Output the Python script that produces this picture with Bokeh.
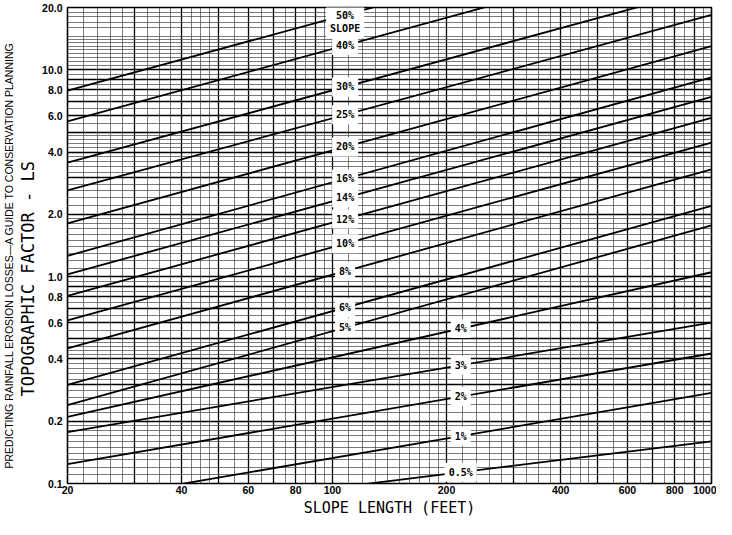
import numpy as np
from bokeh.plotting import figure
from bokeh.models import FixedTicker, Title, ColumnDataSource
from bokeh.core.properties import value
from bokeh.embed import file_html
from bokeh.resources import INLINE

# ---------------- data ----------------
slope_labels = ["50%\nSLOPE", "40%", "30%", "25%", "20%", "16%", "14%", "12%",
                "10%", "8%", "6%", "5%", "4%", "3%", "2%", "1%", "0.5%"]
# LS value of every slope line at slope length 20 ft and at 1000 ft
ls_at_20 = [7.92, 5.63, 3.56, 2.61, 1.81, 1.26, 1.025, 0.808,
            0.614, 0.45, 0.30, 0.239, 0.21, 0.177, 0.124, 0.08, 0.066]
ls_at_1000 = [56.0, 40.0, 25.1, 18.4, 13.0, 9.2, 7.4, 5.85,
              4.45, 3.3, 2.2, 1.77, 1.05, 0.60, 0.425, 0.274, 0.160]
length_start = 20
length_end = 1000
# which label column (0 = near 100 ft, 1 = near 200 ft) each slope label sits in
label_column = [0, 0, 0, 0, 0, 0, 0, 0, 0, 0, 0, 0, 1, 1, 1, 1, 1]

x_tick_values = [20, 40, 60, 80, 100, 200, 400, 600, 800, 1000]
x_tick_labels = ["20", "40", "60", "80", "100", "200", "400", "600", "800", "1000"]
y_tick_values = [0.1, 0.2, 0.4, 0.6, 0.8, 1.0, 2.0, 4.0, 6.0, 8.0, 10.0, 20.0]
y_tick_labels = ["0.1", "0.2", "0.4", "0.6", "0.8", "1.0", "2.0", "4.0", "6.0", "8.0", "10.0", "20.0"]

# log-paper rulings
x_heavy = [20, 30, 40, 50, 60, 70, 80, 90, 100, 200, 300, 400, 500, 600, 700, 800, 900, 1000]
y_heavy = [0.1, 0.2, 0.3, 0.4, 0.5, 0.6, 0.7, 0.8, 0.9, 1, 2, 3, 4, 5, 6, 7, 8, 9, 10, 20]


def between(a, b, step):
    return [round(v, 6) for v in np.arange(a + step, b - step / 2, step)]


x_light = (between(20, 30, 2) + between(30, 40, 2.5) + between(40, 50, 2.5) +
           between(50, 100, 5) + between(100, 200, 10) + between(200, 300, 20) +
           between(300, 400, 25) + between(400, 500, 25) + between(500, 1000, 50))
x_light = [v for v in x_light if v not in x_heavy]
y_light = (between(0.1, 0.2, 0.01) + between(0.2, 0.5, 0.02) + between(0.5, 1, 0.05) +
           between(1, 2, 0.1) + between(2, 5, 0.2) + between(5, 10, 0.5) +
           between(10, 15, 0.5) + between(15, 20, 1))
y_light = [v for v in y_light if min(abs(v - h) for h in y_heavy) > 1e-6]

# ---------------- figure ----------------
p = figure(width=716, height=519, x_axis_type="log", y_axis_type="log",
           x_range=(20, 1000), y_range=(0.1, 20),
           output_backend="svg", toolbar_location=None,
           min_border_left=64, min_border_right=5, min_border_top=7, min_border_bottom=33)
p.background_fill_color = "white"
p.border_fill_color = "white"
p.outline_line_color = "black"
p.outline_line_width = 1.6

for g, heavy, light in ((p.xgrid[0], x_heavy, x_light), (p.ygrid[0], y_heavy, y_light)):
    g.ticker = FixedTicker(ticks=heavy, minor_ticks=light)
    g.grid_line_color = "black"
    g.grid_line_width = 1.3
    g.grid_line_alpha = 1.0
    g.minor_grid_line_color = "#4d4d4d"
    g.minor_grid_line_width = 0.75

p.xaxis.ticker = FixedTicker(ticks=x_tick_values)
p.yaxis.ticker = FixedTicker(ticks=y_tick_values)
p.xaxis.major_label_overrides = {v: s for v, s in zip(x_tick_values, x_tick_labels)}
p.yaxis.major_label_overrides = {v: s for v, s in zip(y_tick_values, y_tick_labels)}

for ax in (p.xaxis[0], p.yaxis[0]):
    ax.axis_line_color = None
    ax.major_tick_line_color = None
    ax.minor_tick_line_color = None
    ax.major_tick_out = 0
    ax.major_tick_in = 0
    ax.minor_tick_out = 0
    ax.minor_tick_in = 0
    ax.major_label_text_font = "Liberation Sans"
    ax.major_label_text_font_style = "bold"
    ax.major_label_text_font_size = "10.5px"
    ax.major_label_text_color = "black"
    ax.axis_label_text_font = "DejaVu Sans Mono"
    ax.axis_label_text_font_style = "normal"
    ax.axis_label_text_font_size = "15px"
    ax.axis_label_text_color = "black"

p.xaxis.axis_label = "SLOPE LENGTH (FEET)"
p.xaxis.major_label_standoff = 2
p.xaxis.axis_label_standoff = 2
p.yaxis.major_label_standoff = 5

# y-axis title as a title panel so it can sit below the centre, as in the original
p.add_layout(Title(text="TOPOGRAPHIC FACTOR - LS", align="left", offset=87,
                   text_font="DejaVu Sans Mono", text_font_style="normal",
                   text_font_size="17px", text_color="black", standoff=3), "left")
p.add_layout(Title(text="PREDICTING RAINFALL EROSION LOSSES\u2014A GUIDE TO CONSERVATION PLANNING",
                   align="left", offset=15, text_font="Liberation Sans", text_font_style="normal",
                   text_font_size="10.5px", text_color="black", standoff=0), "left")

# slope lines
src = ColumnDataSource(dict(
    xs=[[length_start, length_end] for _ in ls_at_20],
    ys=[[a, b] for a, b in zip(ls_at_20, ls_at_1000)],
))
p.multi_line(xs="xs", ys="ys", source=src, line_color="black", line_width=1.8)

# labels placed on the lines, in two columns
column_x = [108, 218]
lx = np.array([column_x[c] for c in label_column], dtype=float)
frac = (np.log10(lx) - np.log10(length_start)) / (np.log10(length_end) - np.log10(length_start))
ly = 10 ** (np.log10(ls_at_20) + frac * (np.log10(ls_at_1000) - np.log10(ls_at_20)))

lab_style = dict(text_font=value("DejaVu Sans Mono"), text_font_style="bold",
                 text_font_size="10px", text_align="center", text_color="black",
                 background_fill_color="white", padding=4)
top = ColumnDataSource(dict(x=lx[:1], y=ly[:1], text=slope_labels[:1]))
rest = ColumnDataSource(dict(x=lx[1:], y=ly[1:], text=slope_labels[1:]))
p.text(x="x", y="y", text="text", source=top, text_baseline="top", y_offset=-9, **lab_style)
p.text(x="x", y="y", text="text", source=rest, text_baseline="middle", **lab_style)

open("out.html", "w").write(file_html(p, INLINE))
